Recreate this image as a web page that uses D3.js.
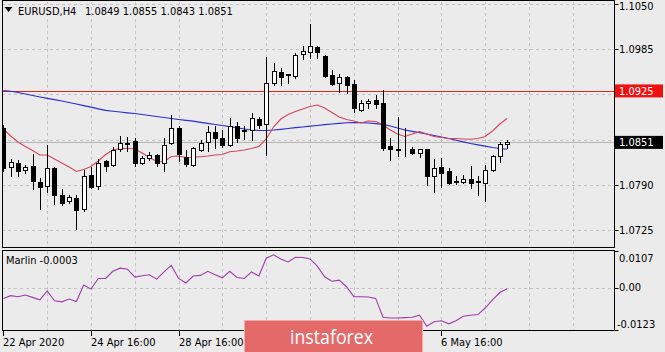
<!DOCTYPE html>
<html><head><meta charset="utf-8">
<script src="https://cdn.jsdelivr.net/npm/d3@7"></script>
<style>
html,body{margin:0;padding:0;background:#ebebeb;}
svg{display:block;}
text{font-family:Tahoma,"DejaVu Sans Condensed","Liberation Sans",sans-serif;font-size:11px;fill:#000;}
</style></head><body>
<svg id="c" width="665" height="352"></svg>
<script>
const symbolName = "EURUSD,H4";
const open = [1.0872,1.0816,1.0821,1.0811,1.0817,1.0794,1.0788,1.0814,1.0776,1.0767,
1.0771,1.0755,1.0804,1.0788,1.0824,1.0818,1.0841,1.0849,1.0853,1.0821,
1.0828,1.0833,1.0822,1.0850,1.0871,1.0830,1.0818,1.0840,1.0851,1.0866,
1.0857,1.0847,1.0874,1.0868,1.0869,1.0885,1.0877,1.0936,1.0952,1.0948,
1.0946,1.0978,1.0981,1.0988,1.0975,1.0948,1.0937,1.0945,1.0935,1.0898,
1.0908,1.0912,1.0908,1.0846,1.0841,1.0840,1.0842,1.0836,1.0841,1.0802,
1.0815,1.0810,1.0794,1.0794,1.0798,1.0794,1.0793,1.0811,1.0831,1.0849];
const high = [1.0876,1.0827,1.0825,1.0818,1.0834,1.0800,1.0847,1.0816,1.0784,1.0775,
1.0775,1.0812,1.0815,1.0827,1.0826,1.0844,1.0860,1.0859,1.0857,1.0832,
1.0837,1.0834,1.0858,1.0890,1.0874,1.0840,1.0844,1.0854,1.0874,1.0874,
1.0869,1.0886,1.0880,1.0874,1.0893,1.0888,1.0974,1.0965,1.0958,1.0950,
1.0980,1.0990,1.1021,1.0989,1.0977,1.0955,1.0949,1.0947,1.0941,1.0912,
1.0914,1.0919,1.0927,1.0857,1.0888,1.0871,1.0845,1.0842,1.0842,1.0827,
1.0828,1.0814,1.0803,1.0804,1.0817,1.0802,1.0818,1.0833,1.0852,1.0855];
const low = [1.0810,1.0802,1.0802,1.0807,1.0784,1.0755,1.0780,1.0762,1.0761,1.0764,
1.0726,1.0753,1.0785,1.0784,1.0810,1.0817,1.0838,1.0838,1.0817,1.0820,
1.0826,1.0817,1.0810,1.0848,1.0824,1.0817,1.0817,1.0839,1.0839,1.0843,
1.0845,1.0846,1.0852,1.0856,1.0854,1.0871,1.0833,1.0933,1.0933,1.0937,
1.0943,1.0971,1.0973,1.0973,1.0945,1.0933,1.0924,1.0922,1.0895,1.0896,
1.0900,1.0900,1.0840,1.0826,1.0831,1.0831,1.0834,1.0830,1.0790,1.0780,
1.0787,1.0791,1.0791,1.0792,1.0785,1.0775,1.0767,1.0810,1.0823,1.0843];
const close = [1.0814,1.0823,1.0810,1.0815,1.0795,1.0787,1.0814,1.0775,1.0764,1.0772,
1.0754,1.0803,1.0787,1.0821,1.0817,1.0840,1.0850,1.0850,1.0822,1.0829,
1.0833,1.0822,1.0847,1.0871,1.0834,1.0820,1.0843,1.0850,1.0866,1.0858,
1.0847,1.0874,1.0858,1.0869,1.0886,1.0876,1.0937,1.0953,1.0945,1.0949,
1.0977,1.0982,1.0989,1.0981,1.0947,1.0935,1.0945,1.0933,1.0901,1.0907,
1.0911,1.0906,1.0843,1.0841,1.0840,1.0840,1.0836,1.0841,1.0802,1.0814,
1.0807,1.0793,1.0795,1.0798,1.0792,1.0795,1.0812,1.0831,1.0849,1.0851];
const maSlow = [1.09256,1.09245,1.09227,1.09206,1.09184,1.09163,1.09144,1.09124,1.09105,1.09084,
1.09062,1.09039,1.09016,1.08993,1.08971,1.08958,1.08947,1.08935,1.08925,1.08911,
1.08897,1.08882,1.08868,1.08853,1.08839,1.08826,1.08815,1.08799,1.08783,1.08767,
1.08753,1.08737,1.08720,1.08702,1.08688,1.08681,1.08681,1.08688,1.08698,1.08710,
1.08721,1.08731,1.08743,1.08753,1.08764,1.08774,1.08784,1.08792,1.08796,1.08793,
1.08789,1.08780,1.08770,1.08746,1.08717,1.08688,1.08669,1.08651,1.08631,1.08609,
1.08587,1.08566,1.08541,1.08518,1.08494,1.08475,1.08455,1.08436,1.08422,1.08411];
const maFast = [1.08702,1.08602,1.08516,1.08451,1.08393,1.08329,1.08329,1.08271,1.08214,1.08156,
1.08091,1.08120,1.08163,1.08242,1.08336,1.08400,1.08422,1.08425,1.08415,1.08357,
1.08293,1.08235,1.08232,1.08307,1.08314,1.08293,1.08296,1.08304,1.08314,1.08329,
1.08336,1.08376,1.08386,1.08400,1.08422,1.08451,1.08559,1.08731,1.08846,1.08911,
1.08954,1.08990,1.09026,1.09048,1.09004,1.08940,1.08875,1.08839,1.08818,1.08789,
1.08818,1.08810,1.08760,1.08688,1.08631,1.08595,1.08631,1.08664,1.08631,1.08595,
1.08580,1.08566,1.08566,1.08559,1.08554,1.08566,1.08595,1.08674,1.08774,1.08853];
const marlin = [-0.0031,-0.0023,-0.0026,-0.0021,-0.0028,-0.0035,-0.0009,-0.0038,-0.0041,-0.0033,
-0.0040,0.0008,-0.0004,0.0027,0.0027,0.0048,0.0057,0.0054,0.0031,0.0035,
0.0038,0.0025,0.0046,0.0065,0.0027,0.0014,0.0034,0.0036,0.0048,0.0038,
0.0029,0.0048,0.0030,0.0027,0.0046,0.0034,0.0086,0.0096,0.0084,0.0075,
0.0089,0.0088,0.0084,0.0063,0.0032,0.0019,0.0022,0.0003,-0.0026,-0.0026,
-0.0027,-0.0031,-0.0086,-0.0088,-0.0088,-0.0087,-0.0086,-0.0080,-0.0112,-0.0099,
-0.0096,-0.0105,-0.0096,-0.0083,-0.0080,-0.0078,-0.0059,-0.0035,-0.0014,-0.0003];
const priceTicks = [1.1050,1.0985,1.0920,1.0855,1.0790,1.0725];
const priceLabels = [1.1050,1.0985,1.0790,1.0725];
const levelLine = 1.0925;
const marlinTicks = [0.0107,0.00,-0.0123];
const marlinTickText = ["0.0107","0.00","-0.0123"];
const timeTickIdx = [0,12,24,36,48,60];
const timeLabelIdx = [0,12,24,60];
const timeLabels = ["22 Apr 2020","24 Apr 16:00","28 Apr 16:00","6 May 16:00"];
const gridEvery = 6;

const svg = d3.select("#c");
const P = {l:2, r:614, t:1, b:247};
const S = {t:251, b:331};
const x = d3.scaleLinear().domain([0,60]).range([3.4,441.4]);
const y = d3.scaleLinear().domain([1.0725,1.1050]).range([230,4]);
const ym = d3.scaleLinear().domain([-0.0123,0.0107]).range([330,251]);
const px = v => Math.round(v)+0.5;
const n = close.length;

svg.append("rect").attr("width",665).attr("height",352).attr("fill","#ebebeb");
const defs = svg.append("defs");
defs.append("clipPath").attr("id","cm").append("rect").attr("x",P.l+1).attr("y",P.t+1).attr("width",P.r-P.l-1).attr("height",P.b-P.t-1);
defs.append("clipPath").attr("id","cs").append("rect").attr("x",P.l+1).attr("y",S.t).attr("width",P.r-P.l-1).attr("height",S.b-S.t);

const gm = svg.append("g").attr("clip-path","url(#cm)");
const gs = svg.append("g").attr("clip-path","url(#cs)");
const gridColor = "#c3c3c3";

const vg = d3.range(gridEvery, 200, gridEvery).filter(i => x(i) < P.r-1);
[gm, gs].forEach((g,k) => {
  g.selectAll(null).data(vg).enter().append("line")
    .attr("x1",d=>px(x(d))).attr("x2",d=>px(x(d)))
    .attr("y1",k?S.t:P.t).attr("y2",k?S.b:P.b)
    .attr("stroke",gridColor).attr("stroke-dasharray","3,3");
});
gm.selectAll(null).data(priceTicks).enter().append("line")
  .attr("x1",P.l).attr("x2",P.r).attr("y1",d=>px(y(d))).attr("y2",d=>px(y(d)))
  .attr("stroke",gridColor).attr("stroke-dasharray","3,3");
gs.append("line").attr("x1",P.l).attr("x2",P.r).attr("y1",px(ym(0))).attr("y2",px(ym(0)))
  .attr("stroke",gridColor).attr("stroke-dasharray","3,3");

gm.append("line").attr("x1",P.l).attr("x2",P.r).attr("y1",px(y(close[n-1]))).attr("y2",px(y(close[n-1])))
  .attr("stroke","#b4b4b4");
gm.append("line").attr("x1",P.l).attr("x2",P.r).attr("y1",px(y(levelLine))).attr("y2",px(y(levelLine)))
  .attr("stroke","#e8231c");

const lineMain = d3.line().x((d,i)=>x(i)).y(d=>y(d));
gm.append("path").attr("d",lineMain(maSlow)).attr("fill","none").attr("stroke","#2c2cd0").attr("stroke-width",1.2);
gm.append("path").attr("d",lineMain(maFast)).attr("fill","none").attr("stroke","#d6435d").attr("stroke-width",1.1);

const idx = d3.range(n);
gm.selectAll(null).data(idx).enter().append("line")
  .attr("x1",i=>px(x(i))).attr("x2",i=>px(x(i)))
  .attr("y1",i=>Math.round(y(high[i]))).attr("y2",i=>Math.round(y(low[i]))+1)
  .attr("stroke","#000");
gm.selectAll(null).data(idx).enter().append("rect")
  .attr("x",i=>px(x(i))-2)
  .attr("y",i=>px(y(Math.max(open[i],close[i]))))
  .attr("width",4)
  .attr("height",i=>Math.max(0,Math.round(y(Math.min(open[i],close[i])))-Math.round(y(Math.max(open[i],close[i])))))
  .attr("fill",i=>close[i]>=open[i]?"#fff":"#000")
  .attr("stroke","#000");

const lineSub = d3.line().x((d,i)=>x(i)).y(d=>ym(d));
gs.append("path").attr("d",lineSub(marlin)).attr("fill","none").attr("stroke","#a23aad").attr("stroke-width",1.1);

svg.append("rect").attr("x",P.l+0.5).attr("y",P.t-0.5).attr("width",P.r-P.l).attr("height",P.b-P.t+1)
  .attr("fill","none").attr("stroke","#000");
svg.append("rect").attr("x",P.l+0.5).attr("y",S.t-0.5).attr("width",P.r-P.l).attr("height",S.b-S.t)
  .attr("fill","none").attr("stroke","#000");

const ax = svg.append("g");
ax.selectAll(null).data(priceTicks).enter().append("line")
  .attr("x1",P.r+0.5).attr("x2",P.r+4.5).attr("y1",d=>px(y(d))).attr("y2",d=>px(y(d))).attr("stroke","#000");
ax.selectAll(null).data(priceLabels).enter().append("text")
  .attr("x",619).attr("y",d=>Math.max(y(d)+4,9.5)).text(d=>d.toFixed(4));
const ly = y(levelLine);
ax.append("rect").attr("x",P.r+1).attr("y",ly-6.5).attr("width",48).attr("height",13).attr("fill","#f01010");
ax.append("text").attr("x",619).attr("y",ly+4).style("fill","#fff").text(levelLine.toFixed(4));
const by = y(close[n-1]);
ax.append("rect").attr("x",P.r+1).attr("y",by-6.5).attr("width",48).attr("height",13).attr("fill","#000");
ax.append("text").attr("x",619).attr("y",by+4).style("fill","#fff").text(close[n-1].toFixed(4));

ax.selectAll(null).data(marlinTicks).enter().append("line")
  .attr("x1",P.r+0.5).attr("x2",P.r+4.5).attr("y1",d=>px(ym(d))).attr("y2",d=>px(ym(d))).attr("stroke","#000");
const mlY = [262,291,328];
ax.selectAll(null).data(marlinTickText).enter().append("text")
  .attr("x",(d,i)=>i==2?617:619).attr("y",(d,i)=>mlY[i]).text(d=>d);

ax.selectAll(null).data(timeTickIdx).enter().append("line")
  .attr("x1",i=>px(x(i))).attr("x2",i=>px(x(i))).attr("y1",S.b).attr("y2",S.b+5).attr("stroke","#000");
ax.selectAll(null).data(timeLabelIdx).enter().append("text")
  .attr("x",i=>Math.round(x(i))).attr("y",346).text((d,k)=>timeLabels[k]);

svg.append("path").attr("d","M4.5,7 L12.5,7 L8.5,12 Z").attr("fill","#000");
svg.append("text").attr("x",18).attr("y",15).text(symbolName);
svg.append("text").attr("x",85).attr("y",15)
  .text([open[n-1],high[n-1],low[n-1],close[n-1]].map(v=>v.toFixed(4)).join(" "));
svg.append("text").attr("x",6).attr("y",264).text("Marlin " + marlin[n-1].toFixed(4));

svg.append("rect").attr("x",244.5).attr("y",320.5).attr("width",178).attr("height",40)
  .attr("fill","#e46a6a").attr("stroke","#f3aaaa");
svg.append("text").attr("x",290).attr("y",344)
  .attr("textLength",83).attr("lengthAdjust","spacingAndGlyphs")
  .style("font-family","'Open Sans','Noto Sans',sans-serif").style("font-size","20px").style("fill","#fff")
  .text("instaforex");
</script>
</body></html>
